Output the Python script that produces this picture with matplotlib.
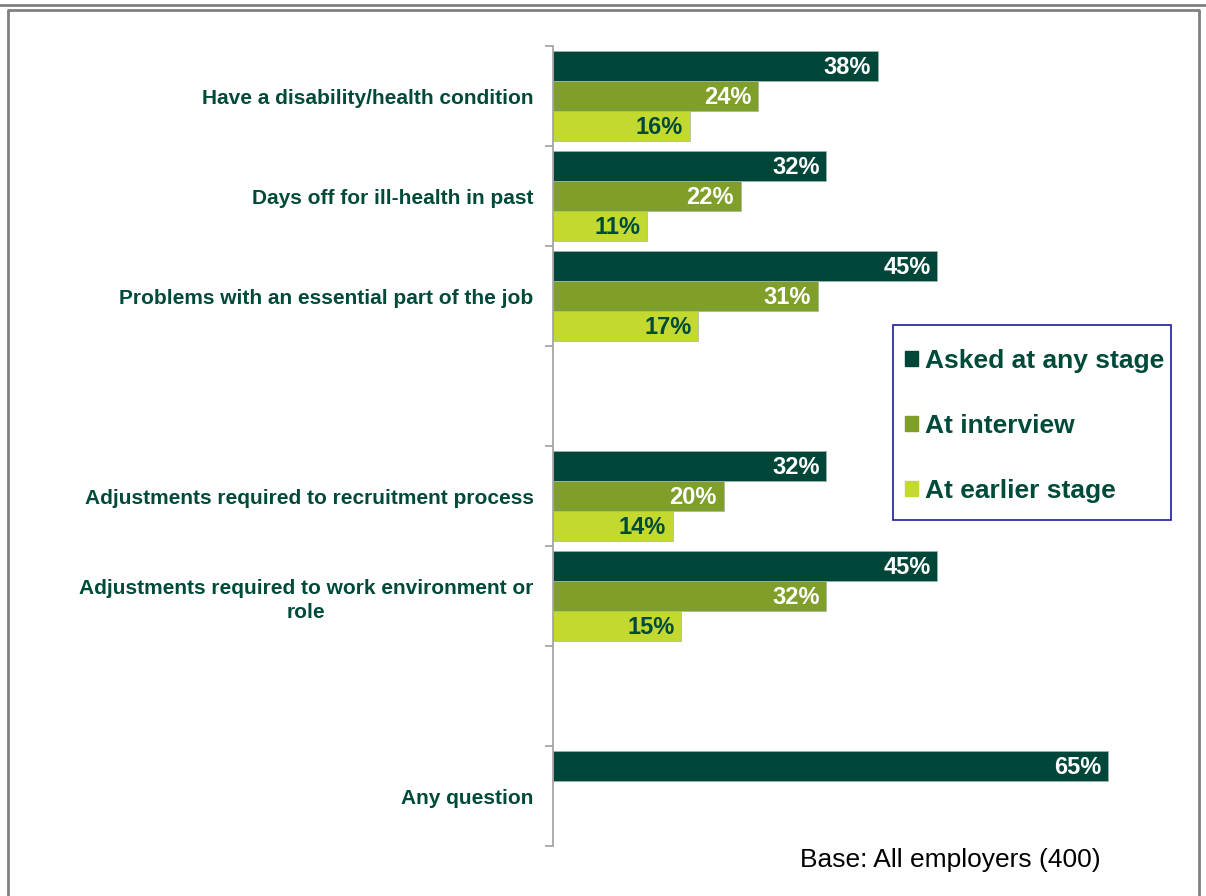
import numpy as np
import matplotlib
matplotlib.use("Agg")
import matplotlib.pyplot as plt
from matplotlib.lines import Line2D
from matplotlib.patches import Patch, Rectangle

plt.rcParams['font.family'] = ['Liberation Sans', 'DejaVu Sans']

# categories top to bottom, blank entries leave an empty slot
categories = ["Have a disability/health condition",
              "Days off for ill-health in past",
              "Problems with an essential part of the job",
              "",
              "Adjustments required to recruitment process",
              "Adjustments required to work environment or\nrole",
              "",
              "Any question"]
asked_any = [38, 32, 45, None, 32, 45, None, 65]
at_interview = [24, 22, 31, None, 20, 32, None, None]
at_earlier = [16, 11, 17, None, 14, 15, None, None]
series_names = ["Asked at any stage", "At interview", "At earlier stage"]

dark = "#00473A"
mid = "#7F9F2A"
light = "#C3D92F"
txt = "#004A3A"
colors = [dark, mid, light]
label_colors = ["white", "white", txt]

fig = plt.figure(figsize=(12.06, 8.96), dpi=100)
W, H = 1206, 896
ax = fig.add_axes([553 / W, 1 - 846 / H, 640 / W, 800 / H])

n = len(categories)
bar_h = 0.3
for j, vals in enumerate([asked_any, at_interview, at_earlier]):
    for i, v in enumerate(vals):
        if v is None:
            continue
        yc = i + 0.2 + j * bar_h
        ax.barh(yc, v, height=bar_h, color=colors[j], edgecolor="#9fb5ad", linewidth=0.5)
        ax.text(v - 0.8, yc + 0.01, f"{v}%", ha="right", va="center",
                color=label_colors[j], fontsize=17, fontweight="bold")

ax.set_xlim(0, 640 / 8.54)
ax.set_ylim(n, 0)

ax.set_yticks(np.arange(n) + 0.5)
ax.set_yticklabels(categories, fontsize=15, fontweight="bold", color=txt)
for t in ax.get_yticklabels():
    t.set_multialignment("center")
    t.set_linespacing(1.35)
ax.tick_params(axis="y", which="major", length=0, pad=14)
ax.set_yticks(np.arange(n + 1), minor=True)
ax.tick_params(axis="y", which="minor", length=6, width=1.2, color="#a0a0a0", direction="out")

ax.set_xticks([])
for s in ["top", "right", "bottom"]:
    ax.spines[s].set_visible(False)
ax.spines["left"].set_color("#a0a0a0")
ax.spines["left"].set_linewidth(1.2)

# legend box drawn separately so its size is fixed
fig.add_artist(Rectangle((893 / W, 1 - 520 / H), 278 / W, 195 / H,
                         transform=fig.transFigure, facecolor="white",
                         edgecolor="#1C1CA0", linewidth=1.2))
handles = [Patch(facecolor=c, edgecolor=c) for c in colors]
leg = fig.legend(handles, series_names, loc="center left",
                 bbox_to_anchor=(905 / W, 1 - 426 / H), frameon=False,
                 fontsize=19, handlelength=0.5, handleheight=0.5, handletextpad=0.25,
                 labelspacing=1.55, borderpad=0, borderaxespad=0)
for t in leg.get_texts():
    t.set_color(txt)
    t.set_fontweight("bold")

fig.text(1101 / W, 1 - 860 / H, "Base: All employers (400)", ha="right", va="center",
         fontsize=19, color="black")

# page frame
fig.add_artist(Line2D([0, 1], [1 - 5.5 / H, 1 - 5.5 / H], transform=fig.transFigure,
                      color="#808080", lw=2))
fig.add_artist(Line2D([8 / W, 8 / W, 1199 / W, 1199 / W], [0, 1 - 10 / H, 1 - 10 / H, 0],
                      transform=fig.transFigure, color="#808080", lw=2))

fig.savefig("out.png", dpi=100)
